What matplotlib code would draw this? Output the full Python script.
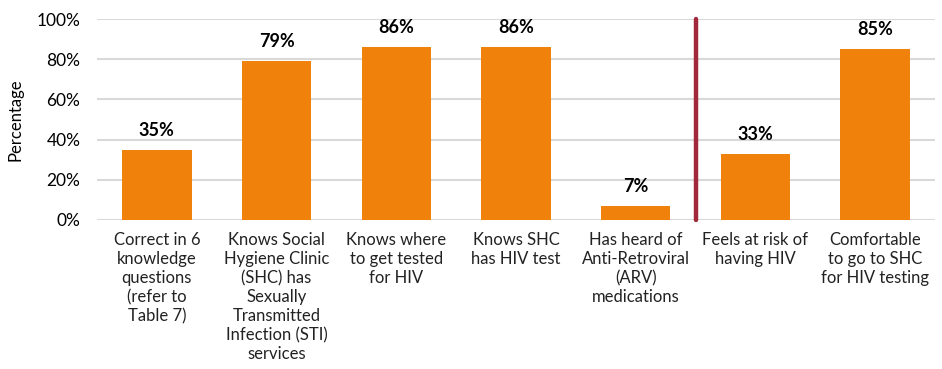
import matplotlib
matplotlib.use("Agg")
import matplotlib.pyplot as plt

categories = [
    "Correct in 6\nknowledge\nquestions\n(refer to\nTable 7)",
    "Knows Social\nHygiene Clinic\n(SHC) has\nSexually\nTransmitted\nInfection (STI)\nservices",
    "Knows where\nto get tested\nfor HIV",
    "Knows SHC\nhas HIV test",
    "Has heard of\nAnti-Retroviral\n(ARV)\nmedications",
    "Feels at risk of\nhaving HIV",
    "Comfortable\nto go to SHC\nfor HIV testing",
]
values = [35, 79, 86, 86, 7, 33, 85]
yticks = [0, 20, 40, 60, 80, 100]
divider_after = 4  # divider between 5th and 6th categories

plt.rcParams['font.family'] = ['Lato', 'DejaVu Sans']

fig = plt.figure(figsize=(9.42, 3.69), dpi=100)
ax = fig.add_axes([0.103, 0.4038, 0.8896, 0.5447])

x = list(range(len(values)))
ax.bar(x, values, width=0.58, color='#F0820C', zorder=3)
for xi, v in zip(x, values):
    ax.annotate(f"{v}%", (xi, v), xytext=(0, 8), textcoords='offset points',
                ha='center', va='bottom', fontsize=13, fontweight='bold', color='black')

ax.set_xlim(-0.5, len(values) - 0.5)
ax.set_ylim(0, 100)
ax.set_yticks(yticks)
ax.set_yticklabels([f"{t}%" for t in yticks], fontsize=12.5)
ax.yaxis.grid(True, color='#D9D9D9', linewidth=1.5, zorder=0)
ax.set_axisbelow(True)
ax.tick_params(axis='y', length=0, pad=12)
ax.tick_params(axis='x', length=0, pad=9)
ax.set_xticks(x)
ax.set_xticklabels(categories, fontsize=12, linespacing=1.22, va='top', color='#222222')
for s in ax.spines.values():
    s.set_visible(False)
ax.set_ylabel("Percentage", fontsize=12)
ax.yaxis.set_label_coords(-0.088, 0.5)

ax.plot([divider_after + 0.5, divider_after + 0.5], [0, 100], color='#A0283A',
        linewidth=3.2, solid_capstyle='round', zorder=4, clip_on=False)

fig.savefig("out.png", dpi=100)
